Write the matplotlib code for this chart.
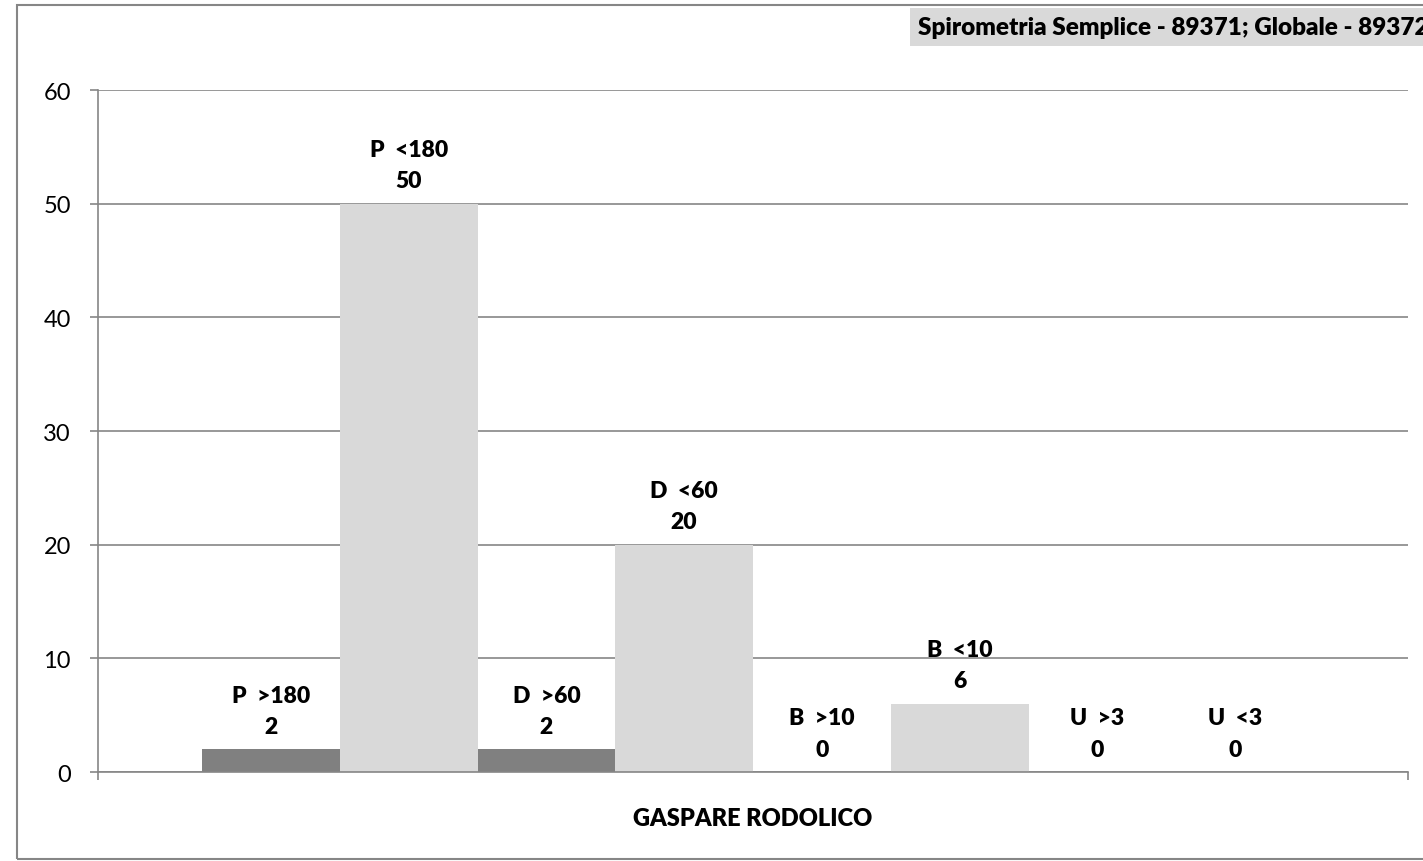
import matplotlib.pyplot as plt
from matplotlib.patches import Rectangle

plt.rcParams['font.family'] = ['Lato', 'DejaVu Sans']

labels = ['P  >180', 'P  <180', 'D  >60', 'D  <60', 'B  >10', 'B  <10', 'U  >3', 'U  <3']
values = [2, 50, 2, 20, 0, 6, 0, 0]
colors = ['#808080', '#d9d9d9'] * 4
category = 'GASPARE RODOLICO'
title = 'Spirometria Semplice - 89371; Globale - 89372'

fig = plt.figure(figsize=(14.23, 8.62), dpi=100)
ax = fig.add_axes([0.0689, 0.1032, 0.9206, 0.7912])

# one category, 8 series bars side by side
n = len(values)
gap = 0.0794
w = (1 - 2 * gap) / n
xs = [-0.5 + gap + (i + 0.5) * w for i in range(n)]
ax.bar(xs, values, width=w, color=colors, zorder=2)

for x, v, lab in zip(xs, values, labels):
    ax.annotate(f'{lab}\n{v}', (x, v), xytext=(0, 9), textcoords='offset points',
                ha='center', va='bottom', fontsize=16.5, fontweight='heavy',
                linespacing=1.6, color='black')

ax.set_xlim(-0.5, 0.5)
ax.set_ylim(0, 60)
ax.set_yticks(range(0, 61, 10))
ax.yaxis.grid(True, color='#868686', linewidth=1.2, zorder=0)
ax.set_xticks([-0.5, 0.5])
ax.set_xticklabels(['', ''])
ax.tick_params(axis='both', colors='#868686', length=5.5, width=1.2, labelcolor='black',
               labelsize=17)
ax.tick_params(axis='y', pad=14)
for s in ['top', 'right']:
    ax.spines[s].set_visible(False)
for s in ['left', 'bottom']:
    ax.spines[s].set_color('#868686')
    ax.spines[s].set_linewidth(1.2)
ax.set_xlabel(category, fontsize=17, fontweight='heavy', labelpad=16)

# outer chart frame
fig.patches.append(Rectangle((17 / 1423, 2 / 862), 1.2, 854 / 862, transform=fig.transFigure,
                             fill=False, edgecolor='#868686', linewidth=1.5))

fig.text(918 / 1423, 1 - 28 / 862, title, fontsize=17.5, fontweight='heavy', ha='left', va='center',
         bbox=dict(facecolor='#d9d9d9', edgecolor='none', pad=6))

fig.savefig('out.png', dpi=100)
